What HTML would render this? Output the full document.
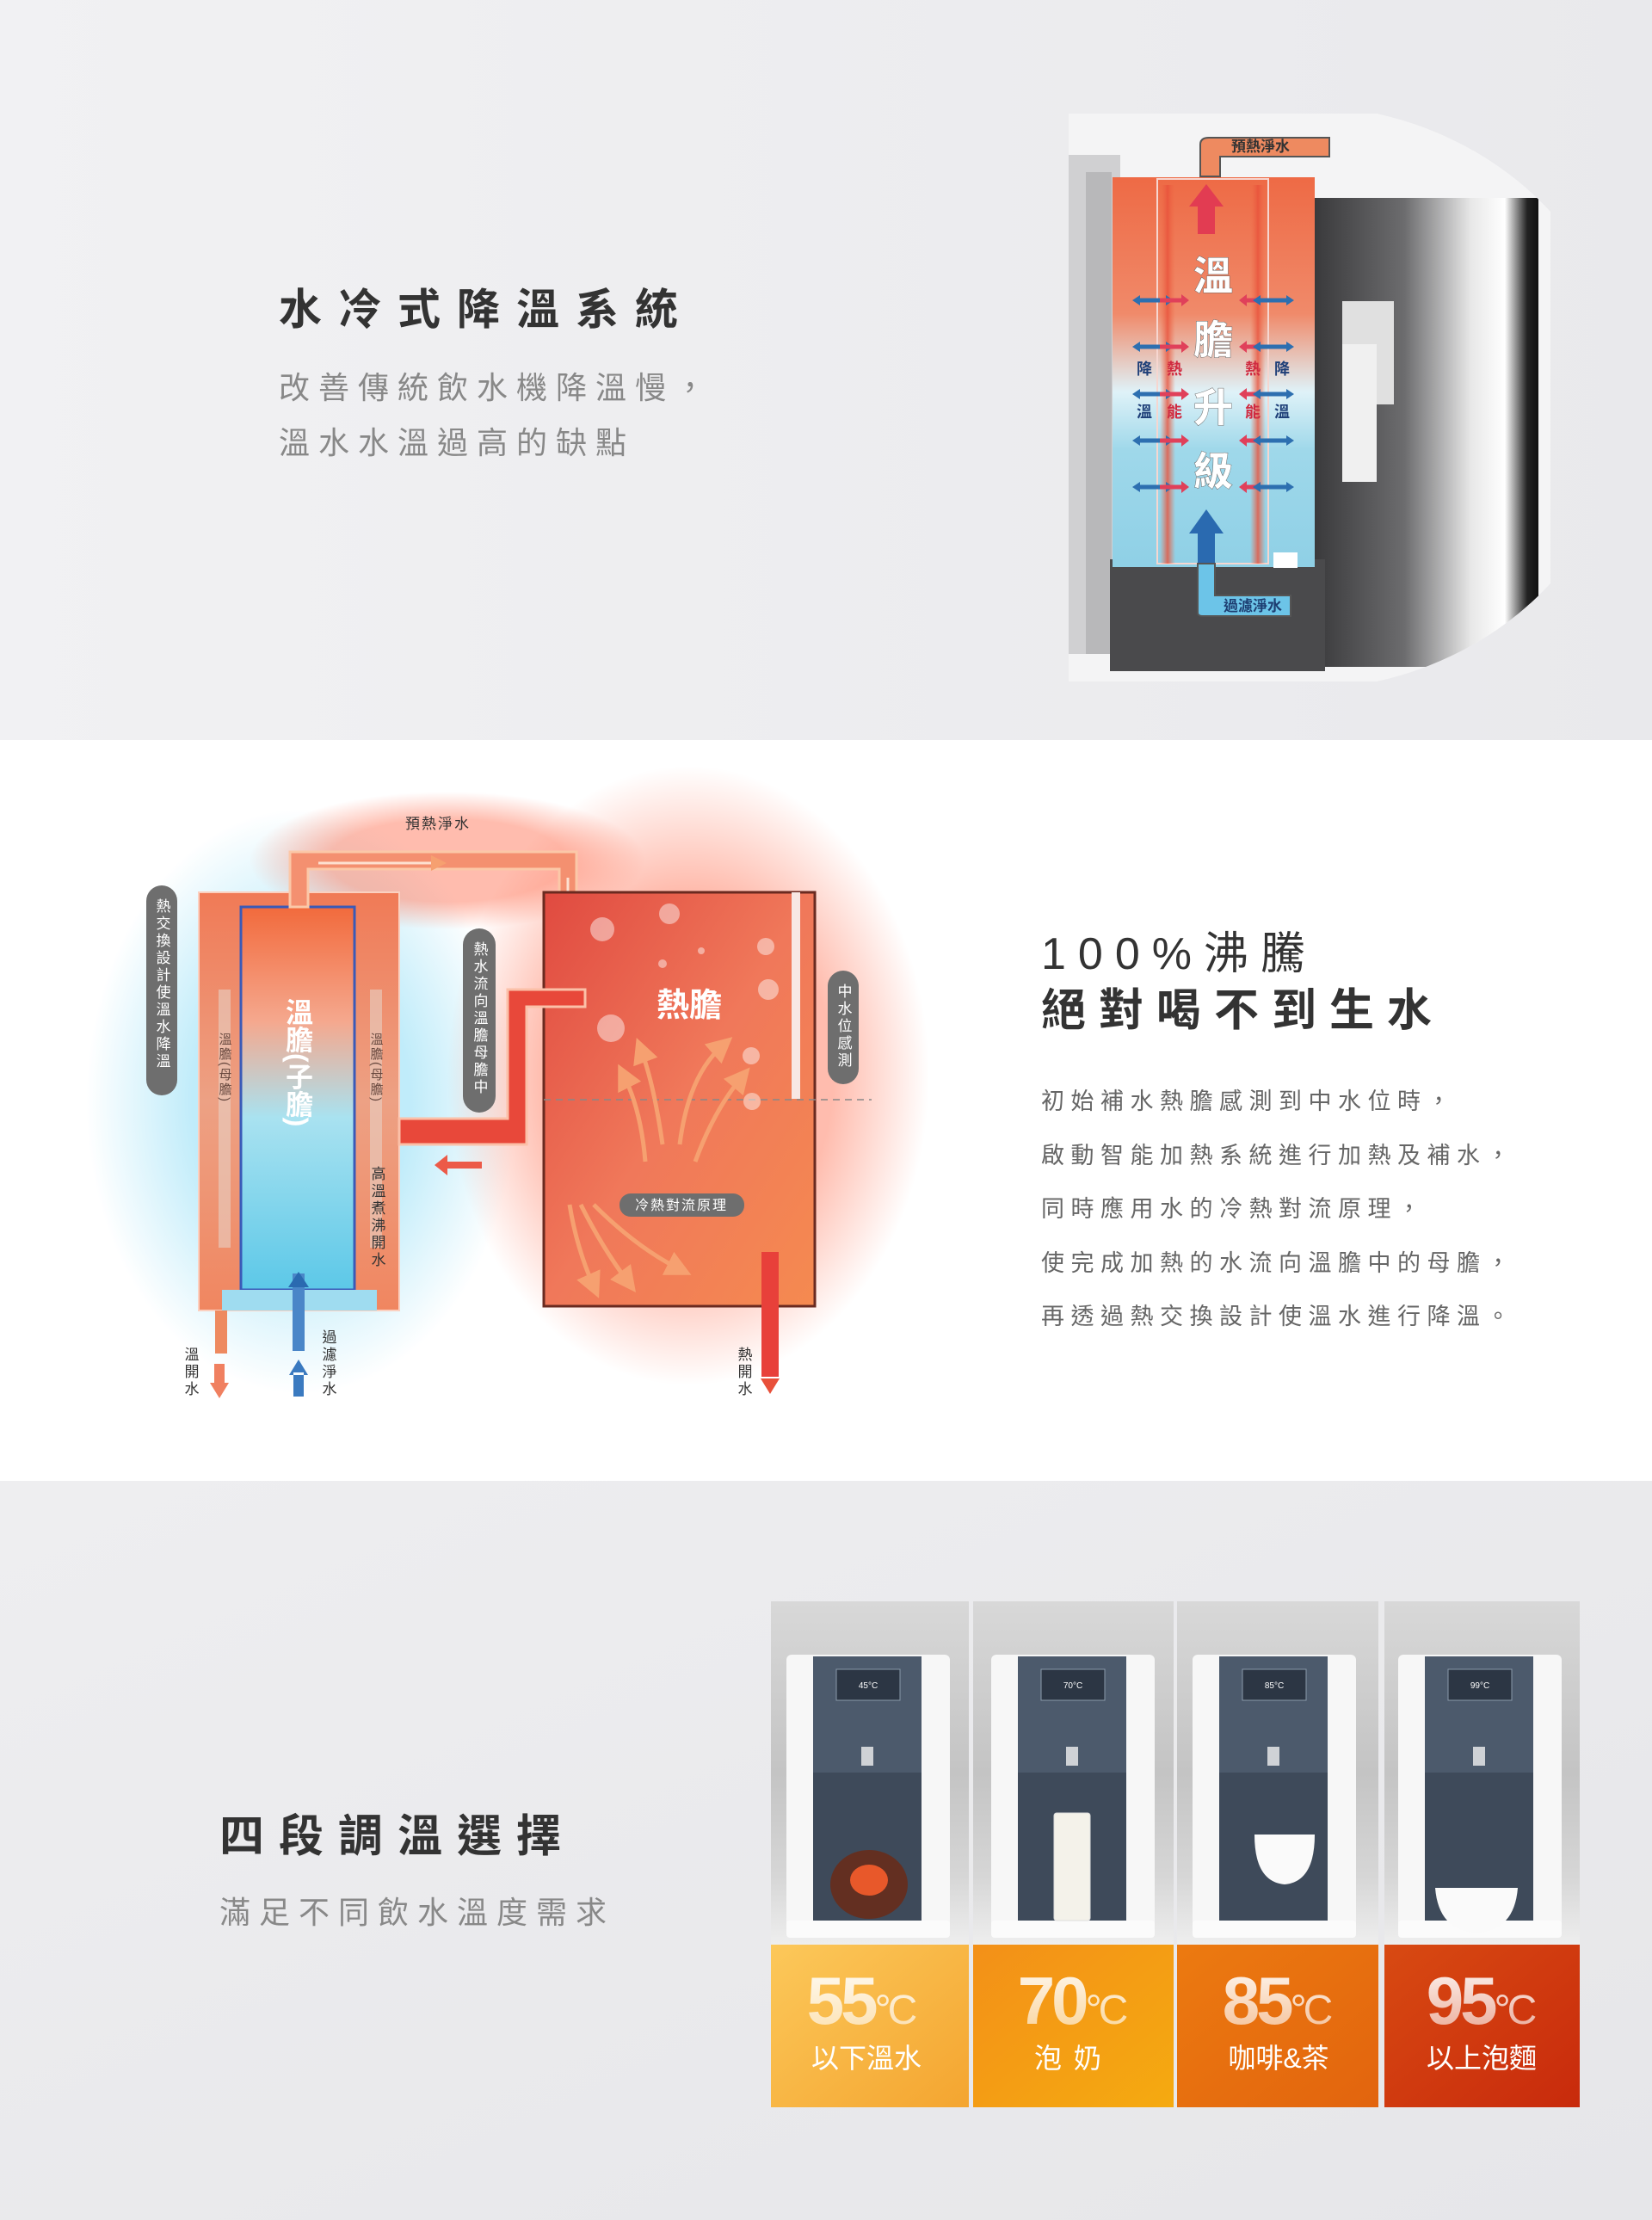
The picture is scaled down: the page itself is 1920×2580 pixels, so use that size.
<!DOCTYPE html>
<html><head><meta charset="utf-8">
<style>
html,body{margin:0;padding:0;}
body{width:1920px;height:2580px;position:relative;overflow:hidden;font-family:"Liberation Sans","Noto Sans CJK TC",sans-serif;background:#fff;}
.t{position:absolute;white-space:nowrap;}
</style></head>
<body>
<svg width="1920" height="2580" viewBox="0 0 1920 2580" xmlns="http://www.w3.org/2000/svg" style="position:absolute;left:0;top:0;font-family:'Liberation Sans','Noto Sans CJK TC',sans-serif">
<defs>
<linearGradient id="bgTop" x1="0" y1="0" x2="1" y2="0"><stop offset="0" stop-color="#f1f1f3"/><stop offset="1" stop-color="#e9e9ec"/></linearGradient>
<linearGradient id="bgBot" x1="0" y1="0" x2="1" y2="1"><stop offset="0" stop-color="#eeeef0"/><stop offset="1" stop-color="#e6e6e9"/></linearGradient>
<linearGradient id="tankG" x1="0" y1="0" x2="0" y2="1"><stop offset="0" stop-color="#ee6a45"/><stop offset="0.35" stop-color="#f08a6a"/><stop offset="0.55" stop-color="#dff2f8"/><stop offset="0.7" stop-color="#9fd8ea"/><stop offset="1" stop-color="#8fd0e6"/></linearGradient>
<linearGradient id="tankSide" x1="0" y1="0" x2="1" y2="0"><stop offset="0" stop-color="#ee6a45" stop-opacity="0"/><stop offset="0.5" stop-color="#e8503a"/><stop offset="1" stop-color="#ee6a45" stop-opacity="0"/></linearGradient>
<linearGradient id="mach" x1="0" y1="0" x2="1" y2="0"><stop offset="0" stop-color="#3a3a3c"/><stop offset="0.4" stop-color="#6c6c6e"/><stop offset="0.7" stop-color="#e8e8e8"/><stop offset="0.85" stop-color="#ffffff"/><stop offset="0.95" stop-color="#222"/><stop offset="1" stop-color="#111"/></linearGradient>
<linearGradient id="leftTank" x1="0" y1="0" x2="0" y2="1"><stop offset="0" stop-color="#f07a56"/><stop offset="0.5" stop-color="#eda184"/><stop offset="1" stop-color="#f08660"/></linearGradient>
<linearGradient id="innerTank" x1="0" y1="0" x2="0" y2="1"><stop offset="0" stop-color="#f26a3c"/><stop offset="0.3" stop-color="#f5a88e"/><stop offset="0.55" stop-color="#a9e2f0"/><stop offset="1" stop-color="#5cc8e8"/></linearGradient>
<linearGradient id="hotTank" x1="0" y1="0" x2="1" y2="1"><stop offset="0" stop-color="#e04a40"/><stop offset="0.5" stop-color="#f0785a"/><stop offset="1" stop-color="#f58a50"/></linearGradient>
<radialGradient id="glowR" cx="0.5" cy="0.5" r="0.5"><stop offset="0.6" stop-color="#ff6a4a" stop-opacity="0.45"/><stop offset="1" stop-color="#ff6a4a" stop-opacity="0"/></radialGradient>
<radialGradient id="glowB" cx="0.5" cy="0.5" r="0.5"><stop offset="0.5" stop-color="#4ac8f0" stop-opacity="0.35"/><stop offset="1" stop-color="#4ac8f0" stop-opacity="0"/></radialGradient>
<linearGradient id="p1" x1="0" y1="0" x2="1" y2="1"><stop offset="0" stop-color="#fcc85a"/><stop offset="1" stop-color="#f4a530"/></linearGradient>
<linearGradient id="p2" x1="0" y1="0" x2="1" y2="1"><stop offset="0" stop-color="#f39018"/><stop offset="1" stop-color="#f5aa10"/></linearGradient>
<linearGradient id="p3" x1="0" y1="0" x2="1" y2="1"><stop offset="0" stop-color="#ec7a10"/><stop offset="1" stop-color="#e2640e"/></linearGradient>
<linearGradient id="p4" x1="0" y1="0" x2="1" y2="1"><stop offset="0" stop-color="#d84a12"/><stop offset="1" stop-color="#c82a0c"/></linearGradient>
<linearGradient id="photo" x1="0" y1="0" x2="0" y2="1"><stop offset="0" stop-color="#d8d8d8"/><stop offset="0.5" stop-color="#c4c4c4"/><stop offset="0.8" stop-color="#d6d6d6"/><stop offset="1" stop-color="#eeeeee"/></linearGradient>
<linearGradient id="numG" x1="0" y1="0" x2="0" y2="1"><stop offset="0" stop-color="#fff" stop-opacity="0.95"/><stop offset="1" stop-color="#fff" stop-opacity="0.55"/></linearGradient>
<clipPath id="circ"><path d="M1242 132 H1600 A380 340 0 0 1 1600 792 H1242 Z"/></clipPath>
<marker id="ar" markerWidth="6" markerHeight="6" refX="3" refY="3" orient="auto"><path d="M0 0 L6 3 L0 6 Z" fill="#f6a070"/></marker>
<g id="arrRow" stroke-width="5" fill="none">
  <path d="M1322 0 H1358" stroke="#2d6fb0"/><path d="M1316 0 l9 -6 v12 z M1364 0 l-9 -6 v12 z" fill="#2d6fb0" stroke="none"/>
  <path d="M1348 0 H1374" stroke="#e0405a"/><path d="M1382 0 l-9 -7 v14 z" fill="#e0405a" stroke="none"/>
  <path d="M1448 0 H1474" stroke="#e0405a"/><path d="M1440 0 l9 -7 v14 z" fill="#e0405a" stroke="none"/>
  <path d="M1462 0 H1498" stroke="#2d6fb0"/><path d="M1456 0 l9 -6 v12 z M1504 0 l-9 -6 v12 z" fill="#2d6fb0" stroke="none"/>
</g>
<g id="m1">
<rect x="914" y="1923" width="190" height="325" rx="6" fill="#f7f7f7"/>
<rect x="945" y="1925" width="126" height="310" fill="#3e4a5a"/>
<rect x="945" y="1925" width="126" height="135" fill="#4c5a6c"/>
<rect x="972" y="1940" width="74" height="36" fill="#2c3644" stroke="#8a9aaa" stroke-width="1"/>
<rect x="1001" y="2030" width="14" height="22" fill="#cfd2d6"/>
<rect x="914" y="2232" width="190" height="20" rx="4" fill="#fbfbfb"/>
</g>
</defs>

<rect x="0" y="0" width="1920" height="860" fill="url(#bgTop)"/>
<rect x="0" y="860" width="1920" height="861" fill="#ffffff"/>
<rect x="0" y="1721" width="1920" height="859" fill="url(#bgBot)"/>

<!-- TOP RIGHT IMAGE -->
<g clip-path="url(#circ)">
  <rect x="1242" y="132" width="560" height="660" fill="#f4f4f5"/>
  <rect x="1242" y="180" width="60" height="580" fill="#d0d0d2"/>
  <rect x="1262" y="200" width="30" height="560" fill="#b8b8ba"/>
  <rect x="1528" y="230" width="260" height="545" fill="url(#mach)"/>
  <rect x="1290" y="650" width="250" height="130" fill="#4a4a4c"/>
  <rect x="1560" y="350" width="60" height="120" fill="#e0e0e0"/>
  <rect x="1560" y="400" width="40" height="160" fill="#f0f0f0"/>
</g>
<rect x="1293" y="206" width="235" height="453" fill="url(#tankG)"/>
<rect x="1345" y="208" width="129" height="447" fill="none" stroke="#f6d6d0" stroke-width="2"/>
<rect x="1348" y="215" width="18" height="440" fill="url(#tankSide)" opacity="0.8"/>
<rect x="1453" y="215" width="18" height="440" fill="url(#tankSide)" opacity="0.8"/>
<path d="M1395 205 V168 Q1395 160 1405 160 H1545 V182 H1418 V205 Z" fill="#ee8a60" stroke="#555" stroke-width="2"/>
<text x="1465" y="176" font-size="17" font-weight="bold" fill="#333" text-anchor="middle">預熱淨水</text>
<path d="M1392 272 V240 H1382 L1402 214 L1422 240 H1412 V272 Z" fill="#e23c52"/>
<g font-size="46" fill="#fff" font-weight="bold" text-anchor="middle" style="paint-order:stroke" stroke="#666" stroke-width="1">
<text x="1410" y="337">溫</text><text x="1410" y="411">膽</text><text x="1410" y="490">升</text><text x="1410" y="564">級</text>
</g>
<use href="#arrRow" y="349"/><use href="#arrRow" y="403"/><use href="#arrRow" y="458"/><use href="#arrRow" y="512"/><use href="#arrRow" y="566"/>
<g font-size="18" font-weight="bold" text-anchor="middle">
<text x="1330" y="435" fill="#1e3f78">降</text><text x="1365" y="435" fill="#d02a40">熱</text>
<text x="1330" y="485" fill="#1e3f78">溫</text><text x="1365" y="485" fill="#d02a40">能</text>
<text x="1456" y="435" fill="#d02a40">熱</text><text x="1490" y="435" fill="#1e3f78">降</text>
<text x="1456" y="485" fill="#d02a40">能</text><text x="1490" y="485" fill="#1e3f78">溫</text>
</g>
<rect x="1480" y="642" width="28" height="18" fill="#fff"/>
<path d="M1392 655 V620 H1382 L1402 592 L1422 620 H1412 V655 Z" fill="#2a6ab0"/>
<path d="M1392 655 V712 Q1392 716 1398 716 H1500 V692 H1412 V655 Z" fill="#6cc4e8" stroke="#555" stroke-width="2"/>
<text x="1456" y="710" font-size="17" font-weight="bold" fill="#1d3d70" text-anchor="middle">過濾淨水</text>

<!-- MIDDLE DIAGRAM -->
<ellipse cx="350" cy="1280" rx="250" ry="340" fill="url(#glowB)"/>
<ellipse cx="800" cy="1250" rx="280" ry="360" fill="url(#glowR)"/>
<ellipse cx="520" cy="1000" rx="230" ry="80" fill="url(#glowR)"/>
<rect x="231" y="1037" width="233" height="486" fill="url(#leftTank)" stroke="#fbd0c0" stroke-width="2"/>
<rect x="254" y="1150" width="14" height="300" fill="#e8d0c4" opacity="0.6"/>
<rect x="430" y="1150" width="14" height="300" fill="#e8d0c4" opacity="0.6"/>
<rect x="280" y="1054" width="132" height="445" fill="url(#innerTank)" stroke="#3a5ab8" stroke-width="3"/>
<rect x="258" y="1499" width="180" height="24" fill="#9fdcf0"/>
<rect x="250" y="1523" width="14" height="50" fill="#ee8a60"/>
<rect x="340" y="1480" width="14" height="90" fill="#4a86c8"/>
<path d="M347 1478 l-12 18 h24 z" fill="#2a6ab0"/>
<path d="M337 1054 V990 H670 V1136 H650 V1010 H358 V1054 Z" fill="#f49070" stroke="#fbc8a8" stroke-width="3"/>
<path d="M370 1003 H510" stroke="#fde0d0" stroke-width="3" marker-end="url(#ar)"/>
<path d="M660 1020 V1120" stroke="#fde0d0" stroke-width="3" marker-end="url(#ar)"/>
<text x="509" y="963" font-size="17" fill="#333" text-anchor="middle" letter-spacing="2">預熱淨水</text>
<rect x="632" y="1037" width="315" height="481" fill="url(#hotTank)" stroke="#6a2a20" stroke-width="3"/>
<rect x="920" y="1037" width="10" height="240" fill="#f8e8e4"/>
<line x1="632" y1="1278" x2="1013" y2="1278" stroke="#888" stroke-width="1.5" stroke-dasharray="8 6"/>
<path d="M680 1170 H612 V1330 H464 V1300 H590 V1150 H680 Z" fill="#e8483a" stroke="#fbc0a8" stroke-width="3"/>
<path d="M560 1350 H520 L520 1342 L505 1354 L520 1366 L520 1358 H560 Z" fill="#ec5a48"/>
<g fill="#fff" opacity="0.45"><circle cx="700" cy="1080" r="14"/><circle cx="778" cy="1062" r="12"/><circle cx="890" cy="1100" r="10"/><circle cx="893" cy="1150" r="12"/><circle cx="710" cy="1195" r="16"/><circle cx="873" cy="1227" r="10"/><circle cx="874" cy="1280" r="10"/><circle cx="770" cy="1120" r="5"/><circle cx="815" cy="1105" r="4"/></g>
<g stroke="#f6a070" stroke-width="5" fill="none">
<path d="M770 1330 Q760 1260 745 1220" marker-end="url(#ar)"/>
<path d="M790 1330 Q800 1250 840 1215" marker-end="url(#ar)"/>
<path d="M750 1350 Q745 1290 725 1250" marker-end="url(#ar)"/>
<path d="M808 1350 Q830 1290 862 1252" marker-end="url(#ar)"/>
<path d="M662 1400 Q670 1450 690 1495" marker-end="url(#ar)"/>
<path d="M675 1400 Q700 1450 730 1490" marker-end="url(#ar)"/>
<path d="M690 1400 Q740 1450 790 1475" marker-end="url(#ar)"/>
</g>
<text x="801" y="1181" font-size="38" font-weight="bold" fill="#fff" text-anchor="middle">熱膽</text>
<rect x="720" y="1387" width="145" height="27" rx="13" fill="#6e6e6e"/>
<text x="792" y="1406" font-size="16" fill="#fff" text-anchor="middle" letter-spacing="2">冷熱對流原理</text>
<rect x="885" y="1455" width="20" height="145" fill="#e8403a"/>
<path d="M895 1620 l-11 -18 h22 z" fill="#e8503a"/>
<path d="M255 1625 l-11 -18 h22 z M249 1585 h12 v25 h-12 z" fill="#f08060"/>
<path d="M347 1580 l-11 18 h22 z M341 1595 h12 v28 h-12 z" fill="#3a7ac0"/>
<rect x="170" y="1029" width="36" height="244" rx="18" fill="#6e6e6e"/>
<rect x="538" y="1079" width="38" height="214" rx="19" fill="#6e6e6e"/>
<rect x="962" y="1128" width="36" height="132" rx="18" fill="#6e6e6e"/>
<g font-size="17" fill="#fff" style="writing-mode:vertical-rl" letter-spacing="3">
<text x="188" y="1044">熱交換設計使溫水降溫</text>
<text x="557" y="1094">熱水流向溫膽母膽中</text>
<text x="980" y="1143">中水位感測</text>
</g>
<g font-size="15" fill="#6a4a40" style="writing-mode:vertical-rl" letter-spacing="2">
<text x="261" y="1200">溫膽(母膽)</text><text x="437" y="1200">溫膽(母膽)</text>
</g>
<g font-size="17" fill="#333" style="writing-mode:vertical-rl" letter-spacing="3">
<text x="438" y="1355">高溫煮沸開水</text>
<text x="221" y="1565">溫開水</text>
<text x="381" y="1545">過濾淨水</text>
<text x="864" y="1565">熱開水</text>
</g>
<g font-size="32" fill="#fff" font-weight="bold" style="writing-mode:vertical-rl">
<text x="346" y="1160">溫膽(子膽)</text>
</g>

<!-- BOTTOM PANELS -->
<rect x="896" y="1861" width="230" height="399" fill="url(#photo)"/>
<rect x="1131" y="1861" width="233" height="399" fill="url(#photo)"/>
<rect x="1368" y="1861" width="234" height="399" fill="url(#photo)"/>
<rect x="1609" y="1861" width="227" height="399" fill="url(#photo)"/>
<rect x="896" y="2260" width="230" height="189" fill="url(#p1)"/>
<rect x="1131" y="2260" width="233" height="189" fill="url(#p2)"/>
<rect x="1368" y="2260" width="234" height="189" fill="url(#p3)"/>
<rect x="1609" y="2260" width="227" height="189" fill="url(#p4)"/>
<use href="#m1"/><use href="#m1" x="238"/><use href="#m1" x="472"/><use href="#m1" x="711"/>
<g font-size="10" fill="#fff" text-anchor="middle"><text x="1009" y="1962">45°C</text><text x="1247" y="1962">70°C</text><text x="1481" y="1962">85°C</text><text x="1720" y="1962">99°C</text></g>
<ellipse cx="1010" cy="2190" rx="45" ry="40" fill="#6a2a18" opacity="0.85"/>
<ellipse cx="1010" cy="2185" rx="22" ry="18" fill="#e8582a"/>
<rect x="1225" y="2107" width="42" height="125" rx="3" fill="#f4f2ea" stroke="#ddd"/>
<path d="M1458 2132 h70 q0 55 -35 58 q-35 -3 -35 -58 z" fill="#fafafa"/>
<path d="M1668 2194 h96 q-4 50 -48 52 q-44 -2 -48 -52 z" fill="#fafafa"/>
<g font-weight="bold" fill="url(#numG)" font-size="78" text-anchor="middle" font-family="'Liberation Sans',sans-serif">
<text x="1000" y="2352" letter-spacing="-4">55<tspan font-size="48" font-weight="normal">°C</tspan></text>
<text x="1245" y="2352" letter-spacing="-4">70<tspan font-size="48" font-weight="normal">°C</tspan></text>
<text x="1483" y="2352" letter-spacing="-4">85<tspan font-size="48" font-weight="normal">°C</tspan></text>
<text x="1720" y="2352" letter-spacing="-4">95<tspan font-size="48" font-weight="normal">°C</tspan></text>
</g>
<g font-size="32" fill="#fff" text-anchor="middle">
<text x="1007" y="2403">以下溫水</text>
<text x="1248" y="2403" letter-spacing="14">泡奶</text>
<text x="1486" y="2403">咖啡&amp;茶</text>
<text x="1722" y="2403">以上泡麵</text>
</g>
</svg>

<div class="t" style="left:324px;top:320px;font-size:50px;letter-spacing:19px;color:#333;font-weight:bold;">水冷式降溫系統</div>
<div class="t" style="left:324px;top:422px;font-size:36px;letter-spacing:10px;color:#888;">改善傳統飲水機降溫慢，</div>
<div class="t" style="left:324px;top:486px;font-size:36px;letter-spacing:10px;color:#888;">溫水水溫過高的缺點</div>

<div class="t" style="left:1210px;top:1066px;font-size:52px;letter-spacing:14px;color:#333;">100%沸騰</div>
<div class="t" style="left:1210px;top:1132px;font-size:52px;letter-spacing:15px;color:#333;font-weight:bold;">絕對喝不到生水</div>
<div class="t" style="left:1210px;top:1249px;font-size:27px;letter-spacing:7.5px;color:#666;line-height:62.6px;">初始補水熱膽感測到中水位時，<br>啟動智能加熱系統進行加熱及補水，<br>同時應用水的冷熱對流原理，<br>使完成加熱的水流向溫膽中的母膽，<br>再透過熱交換設計使溫水進行降溫。</div>

<div class="t" style="left:255px;top:2092px;font-size:52px;letter-spacing:17px;color:#333;font-weight:bold;">四段調溫選擇</div>
<div class="t" style="left:255px;top:2194px;font-size:36px;letter-spacing:10px;color:#888;">滿足不同飲水溫度需求</div>
</body></html>
